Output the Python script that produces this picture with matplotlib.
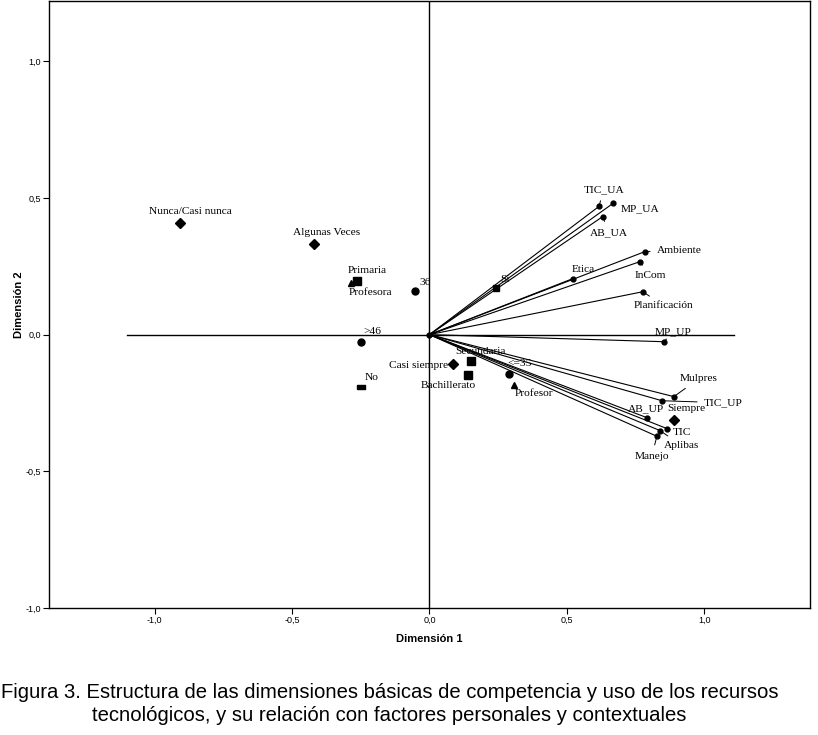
import matplotlib.pyplot as plt
from matplotlib.path import Path

# Variable vectors (discrimination measures)
var_names = ['TIC_UA', 'MP_UA', 'AB_UA', 'Ambiente', 'InCom', 'Etica', 'Planificación',
             'MP_UP', 'Mulpres', 'TIC_UP', 'AB_UP', 'TIC', 'Aplibas', 'Manejo']
var_x = [0.617, 0.668, 0.631, 0.785, 0.766, 0.522, 0.777,
         0.854, 0.890, 0.847, 0.792, 0.865, 0.839, 0.828]
var_y = [0.469, 0.480, 0.432, 0.304, 0.267, 0.205, 0.157,
         -0.026, -0.227, -0.242, -0.304, -0.344, -0.351, -0.372]

# Category points of personal / contextual factors
cat_names = ['Nunca/Casi nunca', 'Algunas Veces', 'Casi siempre', 'Siempre',
             'Primaria', 'Secundaria', 'Bachillerato',
             'Profesora', 'Profesor',
             '36', '>46', '<=35',
             'Si', 'No']
cat_x = [-0.909, -0.420, 0.084, 0.891,
         -0.263, 0.150, 0.139,
         -0.285, 0.307,
         -0.051, -0.248, 0.288,
         0.241, -0.248]
cat_y = [0.410, 0.333, -0.106, -0.311,
         0.198, -0.095, -0.147,
         0.190, -0.183,
         0.158, -0.026, -0.143,
         0.172, -0.190]
cat_group = ['freq', 'freq', 'freq', 'freq',
             'edu', 'edu', 'edu',
             'sex', 'sex',
             'age', 'age', 'age',
             'yn', 'no']

# label placement (offset pixels, alignment, leader line)
var_lab = {
    'TIC_UA': (5, 17, 'center', True), 'MP_UA': (8, -5, 'left', True),
    'AB_UA': (6, -16, 'center', True), 'Ambiente': (12, 1, 'left', True),
    'InCom': (11, -14, 'center', True), 'Etica': (10, 9, 'center', False),
    'Planificación': (21, -14, 'center', True), 'MP_UP': (9, 10, 'center', True),
    'Mulpres': (25, 18, 'center', True), 'TIC_UP': (42, -2, 'left', True),
    'AB_UP': (-1, 9, 'center', False), 'TIC': (15, -4, 'center', True),
    'Aplibas': (22, -15, 'center', True), 'Manejo': (-5, -20, 'center', True),
}
cat_lab = {
    'Nunca/Casi nunca': (11, 11, 'center'), 'Algunas Veces': (12, 11, 'center'),
    'Casi siempre': (-4, -2, 'right'), 'Siempre': (12, 11, 'center'),
    'Primaria': (10, 10, 'center'), 'Secundaria': (10, 9, 'center'),
    'Bachillerato': (-19, -11, 'center'), 'Profesora': (19, -10, 'center'),
    'Profesor': (20, -9, 'center'), '36': (4, 9, 'left'),
    '>46': (11, 10, 'center'), '<=35': (11, 10, 'center'),
    'Si': (9, 8, 'center'), 'No': (10, 9, 'center'),
}

dash = Path([(-1, -0.45), (1, -0.45), (1, 0.45), (-1, 0.45), (-1, -0.45)])
markers = {'freq': ('D', 5), 'edu': ('s', 5.5), 'sex': ('^', 4),
           'age': ('o', 5), 'yn': ('s', 5), 'no': (dash, 6)}

fig = plt.figure(figsize=(8.18, 7.35), dpi=100)
ax = fig.add_axes([0.060, 0.173, 0.930, 0.826])

serif = 'Liberation Serif'
sans = 'Liberation Sans'

# reference axes
ax.plot([-1.1, 1.11], [0, 0], color='black', lw=1.0, zorder=1)
ax.axvline(0, color='black', lw=1.0, zorder=1)

for name, x, y in zip(var_names, var_x, var_y):
    ax.plot([0, x], [0, y], color='black', lw=0.8, zorder=2)
    ax.plot(x, y, 'o', color='black', ms=3.5, zorder=3)
    dx, dy, ha, lead = var_lab[name]
    ax.annotate(name, (x, y), xytext=(dx, dy), textcoords='offset pixels',
                ha=ha, va='center', fontsize=8.2, family=serif,
                arrowprops=dict(arrowstyle='-', lw=0.7, color='black',
                                shrinkA=3, shrinkB=1) if lead else None)

ax.plot(0, 0, 'o', color='black', ms=3.5, zorder=3)

for name, x, y, g in zip(cat_names, cat_x, cat_y, cat_group):
    m, s = markers[g]
    ax.plot(x, y, marker=m, color='black', ms=s, ls='none', zorder=4)
    dx, dy, ha = cat_lab[name]
    ax.annotate(name, (x, y), xytext=(dx, dy), textcoords='offset pixels',
                ha=ha, va='center', fontsize=8.2, family=serif)

ax.set_xlim(-1.385, 1.385)
ax.set_ylim(-1.0, 1.222)
ticks = [-1.0, -0.5, 0.0, 0.5, 1.0]
tick_labels = ['-1,0', '-0,5', '0,0', '0,5', '1,0']
ax.set_xticks(ticks)
ax.set_xticklabels(tick_labels, fontsize=6.5, family=sans)
ax.set_yticks(ticks)
ax.set_yticklabels(tick_labels, fontsize=6.5, family=sans)
ax.tick_params(length=4, width=0.8, pad=2)
for sp in ax.spines.values():
    sp.set_linewidth(1.0)

ax.set_xlabel('Dimensión 1', fontsize=8, fontweight='bold', family=sans, labelpad=6)
ax.set_ylabel('Dimensión 2', fontsize=8, fontweight='bold', family=sans, labelpad=1)

fig.text(0.476, 0.042,
         'Figura 3. Estructura de las dimensiones básicas de competencia y uso de los recursos\n'
         'tecnológicos, y su relación con factores personales y contextuales',
         ha='center', va='center', fontsize=14.6, family=sans, linespacing=1.3)

fig.savefig('out.png', dpi=100)
